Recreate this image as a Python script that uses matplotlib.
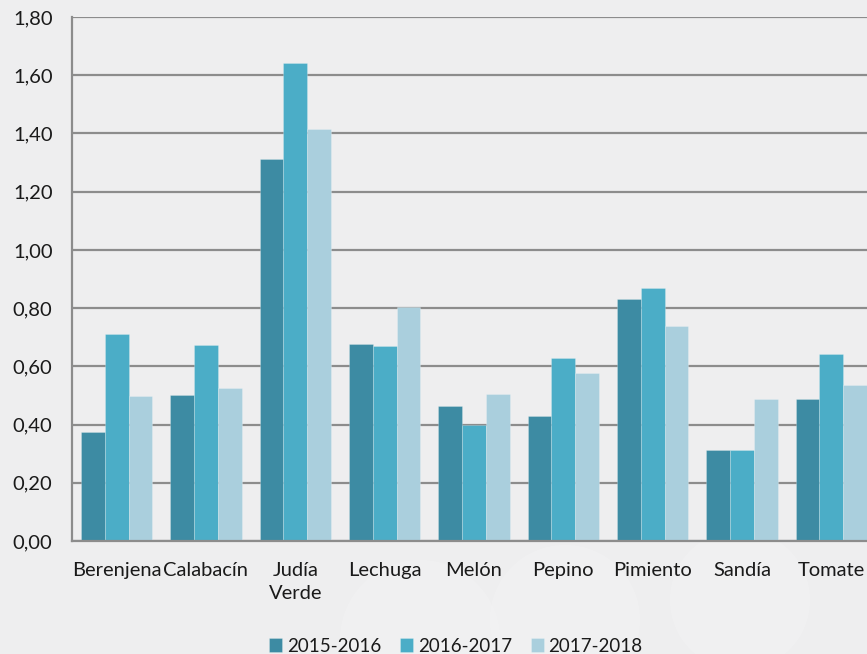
import matplotlib
matplotlib.use("Agg")
import matplotlib.pyplot as plt
import numpy as np
from matplotlib.patches import Circle

categories = ["Berenjena", "Calabacín", "Judía\nVerde", "Lechuga", "Melón",
              "Pepino", "Pimiento", "Sandía", "Tomate"]
series_names = ["2015-2016", "2016-2017", "2017-2018"]
v2015 = [0.373, 0.50, 1.312, 0.677, 0.465, 0.429, 0.831, 0.313, 0.488]
v2016 = [0.71, 0.673, 1.643, 0.670, 0.40, 0.628, 0.869, 0.313, 0.643]
v2017 = [0.498, 0.524, 1.415, 0.805, 0.504, 0.577, 0.739, 0.488, 0.535]
yticks = [0.0, 0.2, 0.4, 0.6, 0.8, 1.0, 1.2, 1.4, 1.6, 1.8]
ytick_labels = ["0,00", "0,20", "0,40", "0,60", "0,80", "1,00", "1,20", "1,40", "1,60", "1,80"]

colors = ["#3D8BA3", "#4BADC7", "#AACFDD"]

plt.rcParams['font.family'] = ['Lato', 'DejaVu Sans']
W, H = 867, 654
fig = plt.figure(figsize=(W/100, H/100), dpi=100)
fig.patch.set_facecolor("#EEEEEF")

# faint decorative circles in background
bg = fig.add_axes([0, 0, 1, 1], zorder=-5)
bg.set_xlim(0, W); bg.set_ylim(H, 0); bg.axis("off")
for (cx, cy, r) in [(420, 640, 80), (565, 620, 75), (740, 600, 70)]:
    bg.add_patch(Circle((cx, cy), r, facecolor="#F3F3F4", edgecolor="none", alpha=0.6))

ax = fig.add_axes([72/W, 113/H, 804/W, 524/H])
ax.set_facecolor("none")

x = np.arange(len(categories))
w = 0.8/3
for i, vals in enumerate([v2015, v2016, v2017]):
    ax.bar(x + (i-1)*w, vals, width=w, color=colors[i], label=series_names[i],
           zorder=3, edgecolor=(1, 1, 1, 0.25), linewidth=0.6)

ax.set_xlim(-0.5, len(categories)-0.5)
ax.set_ylim(0, 1.8)
ax.set_yticks(yticks)
ax.set_yticklabels(ytick_labels, fontsize=14.5, color="#1a1a1a")
ax.set_xticks(x)
ax.set_xticklabels(categories, fontsize=14.5, color="#1a1a1a", linespacing=1.45)
ax.tick_params(axis="y", length=0, pad=14)
ax.tick_params(axis="x", length=0, pad=15)
ax.yaxis.grid(True, color="#8C8C8C", linewidth=1.6, zorder=0)
ax.set_axisbelow(True)
for s in ["top", "right"]:
    ax.spines[s].set_visible(False)
ax.spines["left"].set_color("#8C8C8C")
ax.spines["left"].set_linewidth(1.6)
ax.spines["bottom"].set_color("#8C8C8C")
ax.spines["bottom"].set_linewidth(1.6)
ax.spines["bottom"].set_zorder(4)

fig.legend(loc="center", bbox_to_anchor=(456/W, 1 - 646/H), ncol=3, frameon=False,
           fontsize=13.5, handlelength=0.7, handleheight=0.7, handletextpad=0.25,
           columnspacing=1.0, labelcolor="#1a1a1a")

fig.savefig("out.png", dpi=100, facecolor=fig.get_facecolor())
